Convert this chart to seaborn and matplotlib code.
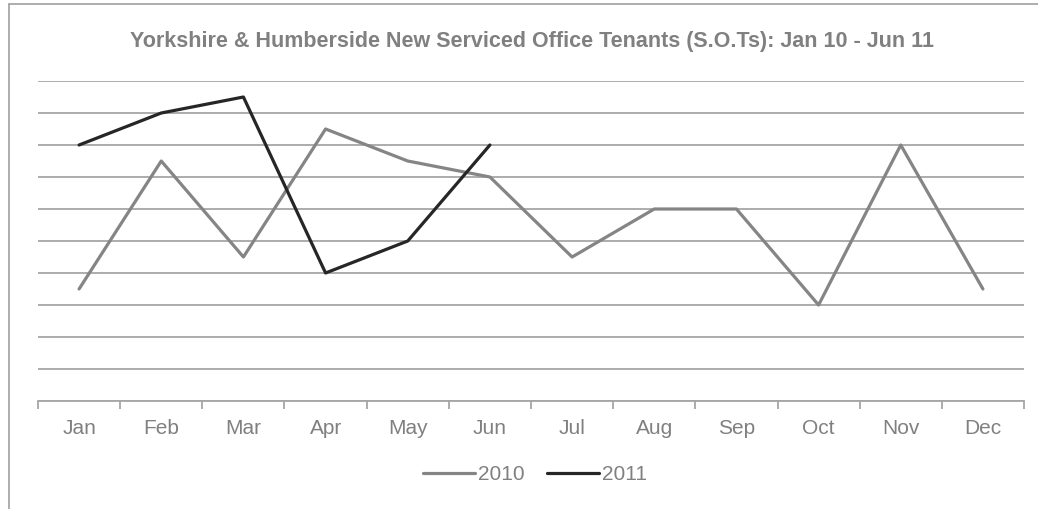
import matplotlib
matplotlib.use("Agg")
import matplotlib.pyplot as plt
from matplotlib.lines import Line2D
import seaborn as sns
import pandas as pd

months = ["Jan", "Feb", "Mar", "Apr", "May", "Jun", "Jul", "Aug", "Sep", "Oct", "Nov", "Dec"]
values_2010 = [3.5, 7.5, 4.5, 8.5, 7.5, 7, 4.5, 6, 6, 3, 8, 3.5]
values_2011 = [8, 9, 9.5, 4, 5, 8]
title = "Yorkshire & Humberside New Serviced Office Tenants (S.O.Ts): Jan 10 - Jun 11"

rows = [{"month": m, "value": v, "year": "2010"} for m, v in zip(months, values_2010)]
rows += [{"month": m, "value": v, "year": "2011"} for m, v in zip(months, values_2011)]
df = pd.DataFrame(rows)
df["pos"] = df["month"].map({m: i for i, m in enumerate(months)})

sns.set_theme(style="white")
plt.rcParams["font.family"] = ["Liberation Sans", "DejaVu Sans"]

W, H = 1038, 509
fig = plt.figure(figsize=(W / 100, H / 100), dpi=100)
ax = fig.add_axes([38 / W, 1 - 401 / H, (1024 - 38) / W, (401 - 81) / H])

grid_c = "#a6a6a6"
text_c = "#808080"

sns.lineplot(data=df, x="pos", y="value", hue="year",
             palette={"2010": "#858585", "2011": "#262626"},
             linewidth=2.3, ax=ax, legend=False, sort=False)

ax.set_xlim(-0.5, len(months) - 0.5)
ax.set_ylim(0, 10)
ax.set_yticks(range(0, 11))
ax.yaxis.grid(True, color=grid_c, linewidth=1.3)
ax.set_axisbelow(True)
ax.tick_params(axis="y", left=False, labelleft=False)
ax.set_xticks(range(len(months)))
ax.set_xticklabels(months, color=text_c, fontsize=15)
ax.set_xticks([i - 0.5 for i in range(len(months) + 1)], minor=True)
ax.tick_params(axis="x", which="major", length=0, pad=13)
ax.tick_params(axis="x", which="minor", bottom=True, length=6, width=1.3, color=grid_c)
ax.set_xlabel("")
ax.set_ylabel("")
for s in ["top", "right", "left"]:
    ax.spines[s].set_visible(False)
ax.spines["bottom"].set_color(grid_c)
ax.spines["bottom"].set_linewidth(1.3)

fig.text(0.5 * (130 + 935) / W, 1 - 41 / H, title, ha="center", va="center",
         fontsize=15.5, fontweight="bold", color=text_c)

handles = [Line2D([], [], color="#858585", linewidth=2.3),
           Line2D([], [], color="#262626", linewidth=2.3)]
leg = fig.legend(handles, ["2010", "2011"], loc="center", bbox_to_anchor=(535 / W, 1 - 475 / H),
                 ncol=2, frameon=False, fontsize=15, handlelength=2.5, handletextpad=0.15,
                 columnspacing=1.1)
for t in leg.get_texts():
    t.set_color(text_c)

# chart frame (partially cropped)
fig.add_artist(Line2D([9 / W, 1.0], [1 - 4 / H, 1 - 4 / H], transform=fig.transFigure,
                      color="#a0a0a0", linewidth=1.2))
fig.add_artist(Line2D([9 / W, 9 / W], [0, 1 - 4 / H], transform=fig.transFigure,
                      color="#a0a0a0", linewidth=1.2))

fig.savefig("out.png", dpi=100, facecolor="white")
